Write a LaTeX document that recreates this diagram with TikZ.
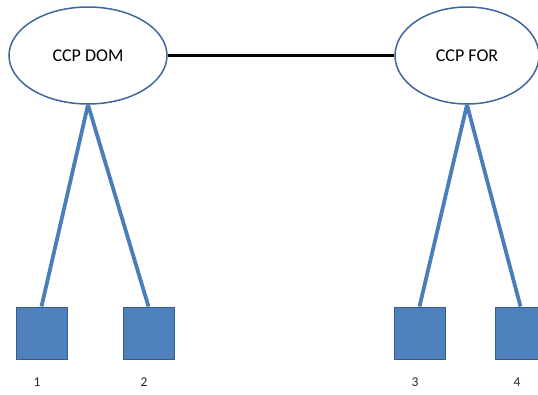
\documentclass[tikz,border=0pt]{standalone}
\usepackage{fontspec}
\setmainfont{Carlito}
\usetikzlibrary{shapes.geometric}
\definecolor{outl}{HTML}{41669C}
\definecolor{sqout}{HTML}{385D8A}
\definecolor{fillb}{HTML}{4F81BD}
\definecolor{lineb}{HTML}{4A7EBB}
\begin{document}
\begin{tikzpicture}[x=1pt,y=-1pt,
  ell/.style={ellipse,draw=outl,line width=1.5pt,fill=white,inner sep=0pt,font=\fontsize{18}{21}\selectfont},
  sq/.style={rectangle,draw=sqout,line width=1pt,fill=fillb,minimum width=51pt,minimum height=52pt,inner sep=0pt},
  link/.style={draw=lineb,line width=3.8pt},
  lbl/.style={font=\fontsize{13.5}{16}\selectfont,text=black!85}]
\useasboundingbox (0,0) rectangle (538,394);
\clip (0,0) rectangle (538,394);
\node[ell,minimum width=158pt,minimum height=97pt] (dom) at (88,55.5) {CCP DOM};
\node[ell,minimum width=144pt,minimum height=97pt] (for) at (467,55.5) {CCP FOR};
\node[sq] (s1) at (41.5,333) {};
\node[sq] (s2) at (148.5,333) {};
\node[sq] (s3) at (419.5,333) {};
\node[sq] (s4) at (520.5,333) {};
\draw[link] (dom.south) -- (s1.north);
\draw[link] (dom.south) -- (s2.north);
\draw[link] (for.south) -- (s3.north);
\draw[link] (for.south) -- (s4.north);
\draw[black,line width=3pt] (dom.east) -- (for.west);
\node[lbl] (l1) at (37,382) {1};
\node[lbl] (l2) at (144,382) {2};
\node[lbl] (l3) at (415,382) {3};
\node[lbl] (l4) at (517,382) {4};
\end{tikzpicture}
\end{document}
